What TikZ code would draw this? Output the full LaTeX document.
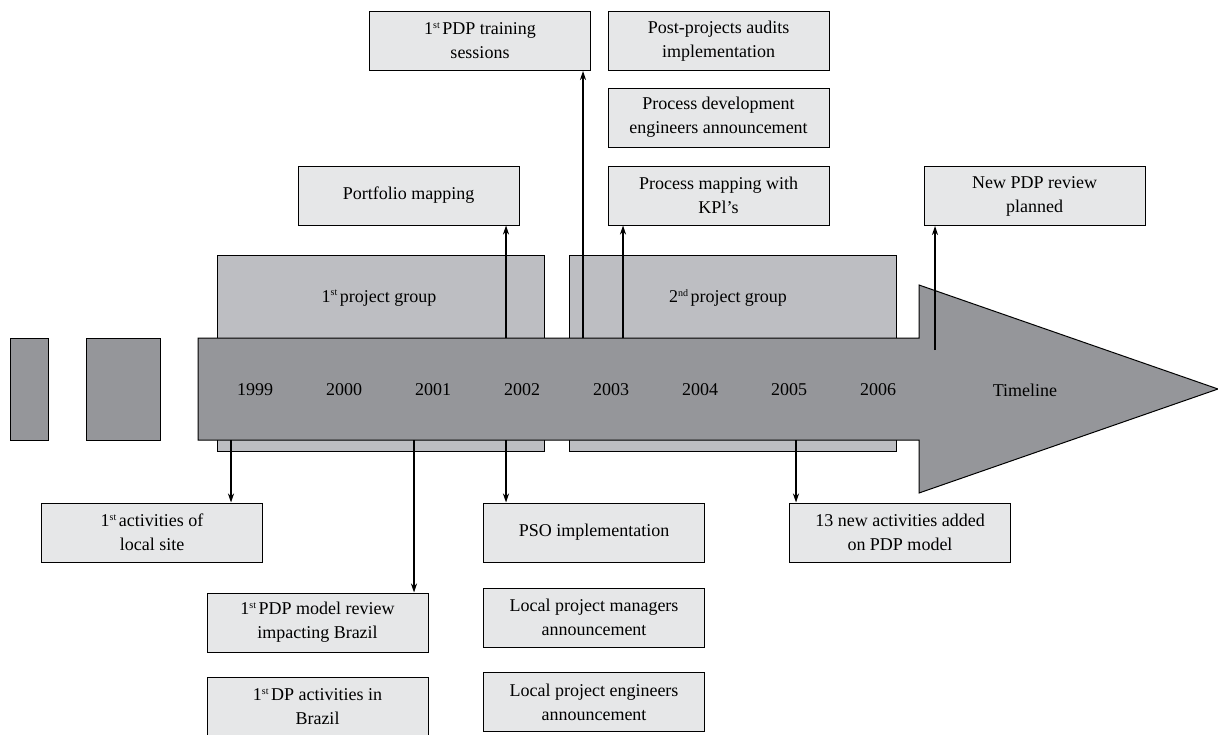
\documentclass[tikz,border=0pt]{standalone}
\usepackage{fontspec}
\setmainfont{Liberation Serif}
\usetikzlibrary{arrows.meta,positioning}
\definecolor{arrowgrey}{RGB}{149,150,154}
\definecolor{groupgrey}{RGB}{189,190,194}
\definecolor{boxgrey}{RGB}{230,231,232}
\newcommand{\ordsup}[1]{\textsuperscript{\fontsize{10}{10}\selectfont #1}\kern2pt}
\tikzset{
  event/.style={draw, fill=boxgrey, line width=1pt, minimum width=221pt, minimum height=59pt, inner sep=2pt, align=center, font=\fontsize{18}{24}\selectfont},
  projgroup/.style={draw, fill=groupgrey, line width=1pt, inner sep=0pt, minimum width=327pt, minimum height=196pt},
  yearlbl/.style={font=\fontsize{18}{24}\selectfont},
  link/.style={line width=1.3pt, -{Stealth[length=9pt,width=6pt]}}
}

\begin{document}
\begin{tikzpicture}[x=1pt, y=-1pt]
        \clip (0,0) rectangle (1218,734);
        % project groups behind the timeline
        \node[projgroup] (grp1) at (380.5,353) {};
        \node[projgroup] (grp2) at (732.5,353) {};
        \node[yearlbl] (grp1lbl) at (379,298) {1\ordsup{st}project group};
        \node[yearlbl] (grp2lbl) at (728,298) {2\ordsup{nd}project group};

        % timeline
        \draw[fill=arrowgrey, line width=1pt] (10,338) rectangle (48,440);
        \draw[fill=arrowgrey, line width=1pt] (86,338) rectangle (160,440);
        \draw[fill=arrowgrey, line width=1pt] (198,338) -- (919,338) -- (919,285) -- (1218,389)
              -- (919,493) -- (919,440) -- (198,440) -- cycle;
        \foreach \yr [count=\i from 0] in {1999,2000,2001,2002,2003,2004,2005,2006}
          \node[yearlbl] (y\yr) at (255+89*\i,390) {\yr};
        \node[yearlbl] (tl) at (1025,390) {Timeline};

        % events above
        \node[event] (train)  at (480,41)      {1\ordsup{st}PDP training\\sessions};
        \node[event] (audit)  at (718.5,41)    {Post-projects audits\\implementation};
        \node[event] (pdeng)  at (718.5,117.5) {Process development\\engineers announcement};
        \node[event] (pmap)   at (718.5,195.5) {Process mapping with\\KPl's};
        \node[event] (port)   at (408.5,195.5) {Portfolio mapping};
        \node[event] (newrev) at (1034.5,196)  {New PDP review\\planned};

        % events below
        \node[event] (act)   at (152,532.5)   {1\ordsup{st}activities of\\local site};
        \node[event] (rev)   at (317.5,622.5) {1\ordsup{st}PDP model review\\impacting Brazil};
        \node[event] (dp)    at (317.5,706.5) {1\ordsup{st}DP activities in\\Brazil};
        \node[event] (pso)   at (594,532.5)   {PSO implementation};
        \node[event] (mgr)   at (594,617.5)   {Local project managers\\announcement};
        \node[event] (eng)   at (594,702)     {Local project engineers\\announcement};
        \node[event] (new13) at (900,532.5)   {13 new activities added\\on PDP model};

        \path
        (506,338) coordinate (u1)
        (583,338) coordinate (u2)
        (623,338) coordinate (u3)
        (935,350) coordinate (u4)
        (231,440) coordinate (d1)
        (414,440) coordinate (d2)
        (506,440) coordinate (d3)
        (796,440) coordinate (d4)
        ;

        \draw[link] (u1) -- (u1 |- port.south);
        \draw[link] (u2) -- (u2 |- train.south);
        \draw[link] (u3) -- (u3 |- pmap.south);
        \draw[link] (u4) -- (u4 |- newrev.south);
        \draw[link] (d1) -- (d1 |- act.north);
        \draw[link] (d2) -- (d2 |- rev.north);
        \draw[link] (d3) -- (d3 |- pso.north);
        \draw[link] (d4) -- (d4 |- new13.north);
\end{tikzpicture}
\end{document}
